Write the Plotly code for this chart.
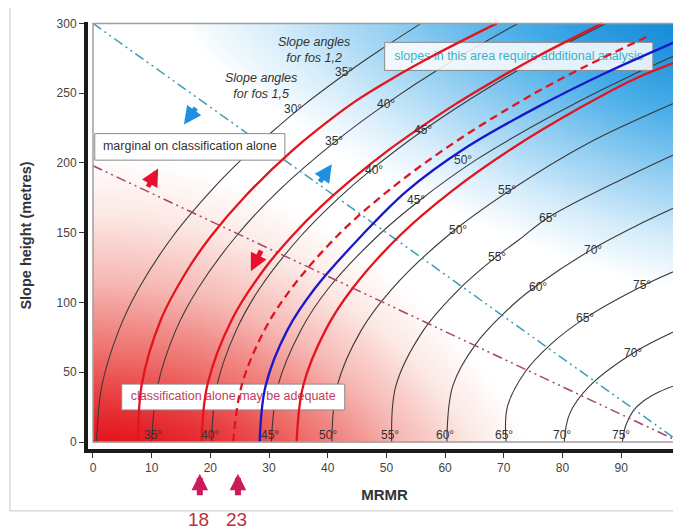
import numpy as np
import plotly.graph_objects as go

# ---------------- data ----------------
X_TICKS = [0, 10, 20, 30, 40, 50, 60, 70, 80, 90, 100]
Y_TICKS = [0, 50, 100, 150, 200, 250, 300]

# thin black slope-angle curves
B0_x = [0.6, 1.5, 4.4, 7.8, 13.7, 20.1, 25.2, 29.9, 35.5, 42.1, 48.6, 55.9]
B0_y = [0, 40, 80, 110, 148, 180, 202, 220, 240, 261, 280, 300]
B1_x = [10.0, 11.0, 14.1, 17.9, 24.5, 31.6, 41.5, 50.0, 60.0, 72.4]
B1_y = [0, 40, 80, 110, 148, 180, 216, 242.5, 270, 300]
B2_x = [20.2, 21.1, 24.4, 28.4, 35.5, 41.9, 47.3, 56.3, 67.6, 78.2, 87.4]
B2_y = [0, 40, 80, 110, 148, 175, 194.7, 223.4, 254.4, 280, 300]
B3_x = [30.4, 31.5, 35.4, 40.1, 48.6, 55.7, 65.2, 74.4, 83.1, 91.4, 99.9]
B3_y = [0, 40, 80, 110, 148, 173.3, 202, 225, 244.8, 262, 278.3]
B4_x = [40.7, 41.6, 45.7, 51.0, 60.5, 71.1, 84.3, 100.2]
B4_y = [0, 40, 80, 110, 148, 180.4, 214, 245]
B5_x = [50.9, 51.6, 56.3, 62.5, 68.7, 72.6, 77.6, 89.8, 100.6]
B5_y = [0, 40, 80, 110, 132.7, 145, 160.9, 187.6, 209]
B6_x = [60.3, 61.3, 65.2, 72.0, 75.7, 84.8, 92.6, 100.2]
B6_y = [0, 40, 70, 100, 112.4, 137.5, 155, 170]
B7_x = [70.4, 70.6, 73.6, 78.0, 83.8, 93.9, 100.2]
B7_y = [0, 25, 50, 70, 88.6, 112.4, 124.4]
B8_x = [80.3, 81.2, 84.6, 92.4, 100.2]
B8_y = [0, 20, 40, 64.7, 81.4]
B9_x = [90.2, 90.8, 92.0, 93.7, 96.5, 100.2]
B9_y = [0, 12, 22, 29, 36, 42]

# coloured MRMR curves
R1_x = [7.7, 8.3, 11.6, 16.2, 20.2, 25.9, 34.0, 39.5, 45.0, 50.8, 58.5, 68.8]
R1_y = [0, 41, 88, 124, 148, 176, 209, 228, 245, 260, 278, 300]
R2_x = [18.5, 19.5, 23.7, 29.2, 34.0, 38.8, 44.6, 50.3, 56.7, 61.9, 67.6, 75.6, 86.8]
R2_y = [0, 41, 88, 124, 148, 168.5, 190, 209, 228, 242.5, 257, 276, 300]
RD_x = [23.9, 25.3, 29.2, 33.8, 41.7, 50.3, 60.3, 71.2, 81.0, 94.9]
RD_y = [0, 40, 80, 110, 148, 180, 211, 240, 263, 291.4]
BL_x = [28.4, 29.4, 33.1, 37.8, 45.8, 53.5, 63.2, 75.7, 87.6, 99.9, 101.0]
BL_y = [0, 40, 80, 110, 148, 180, 210, 240, 265, 288, 290]
R3_x = [34.7, 35.8, 39.6, 44.2, 52.3, 61.2, 71.3, 83.2, 92.2, 100.5]
R3_y = [0, 40, 80, 110, 148, 180, 210, 240, 260, 274]

# straight dash-dot boundaries
CYAN_X = [0, 100]
CYAN_Y = [300, 0]
MAROON_X = [0, 100]
MAROON_Y = [198, 0]

# angle labels
BOTTOM_LABELS = ["35°", "40°", "45°", "50°", "55°", "60°", "65°", "70°", "75°"]
BOTTOM_LABEL_X = [10.3, 19.9, 30.2, 40.1, 50.6, 60.0, 70.1, 80.0, 90.0]
UPPER_LABELS = ["35°", "30°", "40°", "35°", "45°", "40°", "50°", "45°", "55°", "50°",
                "65°", "55°", "70°", "60°", "75°", "65°", "70°"]
UPPER_LABEL_X = [42.8, 34.1, 50.0, 41.0, 56.3, 47.8, 63.1, 55.1, 70.5, 62.2,
                 77.6, 68.8, 85.2, 75.9, 93.5, 83.8, 92.0]
UPPER_LABEL_Y = [265, 239, 242.5, 216, 223.4, 194.7, 202, 173.3, 180.4, 152.3,
                 160.9, 132.7, 137.5, 111.2, 112.4, 88.6, 63.5]

MARKED_MRMR = [18, 23]

FONT = "Arial, Liberation Sans, sans-serif"

fig = go.Figure()

# ---------------- background gradient (decoration only) ----------------
gx = np.linspace(0.5, 99.5, 100)
gy = np.linspace(2.5, 297.5, 60)
GX, GY = np.meshgrid(gx, gy)
red = np.clip(1 - (GX / 74) ** 2 - (GY / 205) ** 1.2, 0, 1)
blue = np.clip(1 - ((100 - GX) / 85) ** 1.3 - ((300 - GY) / 190) ** 1.3, 0, 1)
fig.add_trace(go.Heatmap(
    x=gx, y=gy, z=red - blue, zmin=-1, zmax=1, zsmooth="best", showscale=False,
    hoverinfo="skip",
    colorscale=[[0.0, "#168cd8"], [0.12, "#4aaee8"], [0.25, "#95cff2"], [0.38, "#d4ecfa"],
                [0.5, "#ffffff"], [0.62, "#fce8e4"], [0.75, "#f6b8b4"], [0.88, "#ee6e6a"],
                [1.0, "#e3161e"]]))

# ---------------- black curves ----------------
for cx, cy in [(B0_x, B0_y), (B1_x, B1_y), (B2_x, B2_y), (B3_x, B3_y), (B4_x, B4_y),
               (B5_x, B5_y), (B6_x, B6_y), (B7_x, B7_y), (B8_x, B8_y), (B9_x, B9_y)]:
    fig.add_trace(go.Scatter(x=cx, y=cy, mode="lines", hoverinfo="skip",
                             line=dict(color="#3a3a3a", width=1.1, shape="spline", smoothing=1.0)))

# ---------------- dash-dot boundaries ----------------
DASHDOT = "10px,4px,2px,4px,2px,4px"
fig.add_trace(go.Scatter(x=CYAN_X, y=CYAN_Y, mode="lines", hoverinfo="skip",
                         line=dict(color="#3a9fb3", width=1.5, dash=DASHDOT)))
fig.add_trace(go.Scatter(x=MAROON_X, y=MAROON_Y, mode="lines", hoverinfo="skip",
                         line=dict(color="#a8456a", width=1.5, dash=DASHDOT)))

# ---------------- text boxes (under the coloured curves) ----------------
BOXES = [
    (0.3, 32.7, 202, 221, "rgba(255,255,255,1)", "marginal on classification alone", "#333333"),
    (4.9, 42.9, 23, 41.5, "rgba(255,255,255,1)", "classification alone may be adequate", "#c0405e"),
    (49.7, 95.4, 266.3, 286.4, "rgba(255,255,255,0.85)", "slopes in this area require additional analysis", "#3eb0c6"),
]
for x0, x1, y0, y1, fill, txt, tc in BOXES:
    fig.add_trace(go.Scatter(x=[x0, x1, x1, x0, x0], y=[y0, y0, y1, y1, y0], mode="lines",
                             fill="toself", fillcolor=fill, hoverinfo="skip",
                             line=dict(color="#8a8a8a", width=1)))
    fig.add_trace(go.Scatter(x=[(x0 + x1) / 2], y=[(y0 + y1) / 2], mode="text", text=[txt],
                             hoverinfo="skip", textposition="middle center",
                             textfont=dict(family=FONT, size=12.5, color=tc)))

# ---------------- coloured curves ----------------
RED = "#e3141e"
SPL = dict(shape="spline", smoothing=1.0)
fig.add_trace(go.Scatter(x=R1_x, y=R1_y, mode="lines", hoverinfo="skip",
                         line=dict(color=RED, width=2.3, **SPL)))
fig.add_trace(go.Scatter(x=R2_x, y=R2_y, mode="lines", hoverinfo="skip",
                         line=dict(color=RED, width=2.3, **SPL)))
fig.add_trace(go.Scatter(x=RD_x, y=RD_y, mode="lines", hoverinfo="skip",
                         line=dict(color=RED, width=2.3, dash="8px,5px", **SPL)))
fig.add_trace(go.Scatter(x=BL_x, y=BL_y, mode="lines", hoverinfo="skip",
                         line=dict(color="#1717cc", width=2.3, **SPL)))
fig.add_trace(go.Scatter(x=R3_x, y=R3_y, mode="lines", hoverinfo="skip",
                         line=dict(color=RED, width=2.3, **SPL)))

annotations = []
for t, x in zip(BOTTOM_LABELS, BOTTOM_LABEL_X):
    annotations.append(dict(x=x, y=5, text=t, showarrow=False,
                            font=dict(family=FONT, size=12, color="#333333")))
for t, x, y in zip(UPPER_LABELS, UPPER_LABEL_X, UPPER_LABEL_Y):
    annotations.append(dict(x=x, y=y, text=t, showarrow=False,
                            font=dict(family=FONT, size=12, color="#333333")))

annotations += [
    dict(x=37.6, y=281, text="<i>Slope angles<br>for fos 1,2</i>", showarrow=False, align="center",
         font=dict(family=FONT, size=12.5, color="#333333")),
    dict(x=28.6, y=254.8, text="<i>Slope angles<br>for fos 1,5</i>", showarrow=False, align="center",
         font=dict(family=FONT, size=12.5, color="#333333")),
]

# small direction arrows in the plot
for hx, hy, ax, ay, col in [(15.5, 227.6, 13, -18, "#1e90e0"), (40.7, 199.0, -13, 19, "#1e90e0"),
                            (11.1, 196.1, -11, 20, "#e8102e"), (26.9, 122.4, 11, -22, "#e8102e")]:
    annotations.append(dict(x=hx, y=hy, ax=ax, ay=ay, text="", showarrow=True,
                            arrowhead=2, arrowsize=0.7, arrowwidth=5, arrowcolor=col))

# arrows under the axis and the marked values
for v, lx in zip(MARKED_MRMR, [18.2, 24.7]):
    annotations.append(dict(x=lx, y=-0.058, xref="x", yref="paper", ax=0, ay=23, text="",
                            showarrow=True, arrowhead=2, arrowsize=0.55, arrowwidth=6,
                            arrowcolor="#cc1a5a"))
    annotations.append(dict(x=lx - 0.2, y=-0.166, xref="x", yref="paper", yanchor="middle",
                            text=str(v), showarrow=False,
                            font=dict(family=FONT, size=19, color="#b8323c")))

fig.update_layout(
    width=681, height=530,
    margin=dict(l=80, r=8, t=14, b=89),
    plot_bgcolor="white", paper_bgcolor="white",
    showlegend=False,
    annotations=annotations,
    shapes=[
        dict(type="rect", xref="x", yref="y", x0=0, x1=100, y0=0, y1=300,
             line=dict(color="#a0a0a0", width=1.5), layer="above"),
        dict(type="rect", xref="paper", yref="paper", x0=-0.1315, x1=1.05, y0=-0.145, y1=1.042,
             line=dict(color="#c8c8c8", width=1), layer="below"),
    ],
    xaxis=dict(range=[-0.85, 100.2], tickvals=X_TICKS, showline=True, linewidth=4, linecolor="#1a1a1a",
               ticks="outside", ticklen=5, tickcolor="#333333", showgrid=False, zeroline=False,
               tickfont=dict(family=FONT, size=12, color="#444444"), automargin=False,
               title=dict(text="<b>MRMR</b>", font=dict(family=FONT, size=15, color="#333333"), standoff=16)),
    yaxis=dict(range=[-5, 301], tickvals=Y_TICKS, showline=True, linewidth=4, linecolor="#1a1a1a",
               ticks="outside", ticklen=5, tickcolor="#333333", showgrid=False, zeroline=False,
               tickfont=dict(family=FONT, size=12, color="#444444"), automargin=False,
               title=dict(text="<b>Slope height (metres)</b>", font=dict(family=FONT, size=14.5, color="#333333"),
                          standoff=22)),
)

fig.write_html("out.html")
